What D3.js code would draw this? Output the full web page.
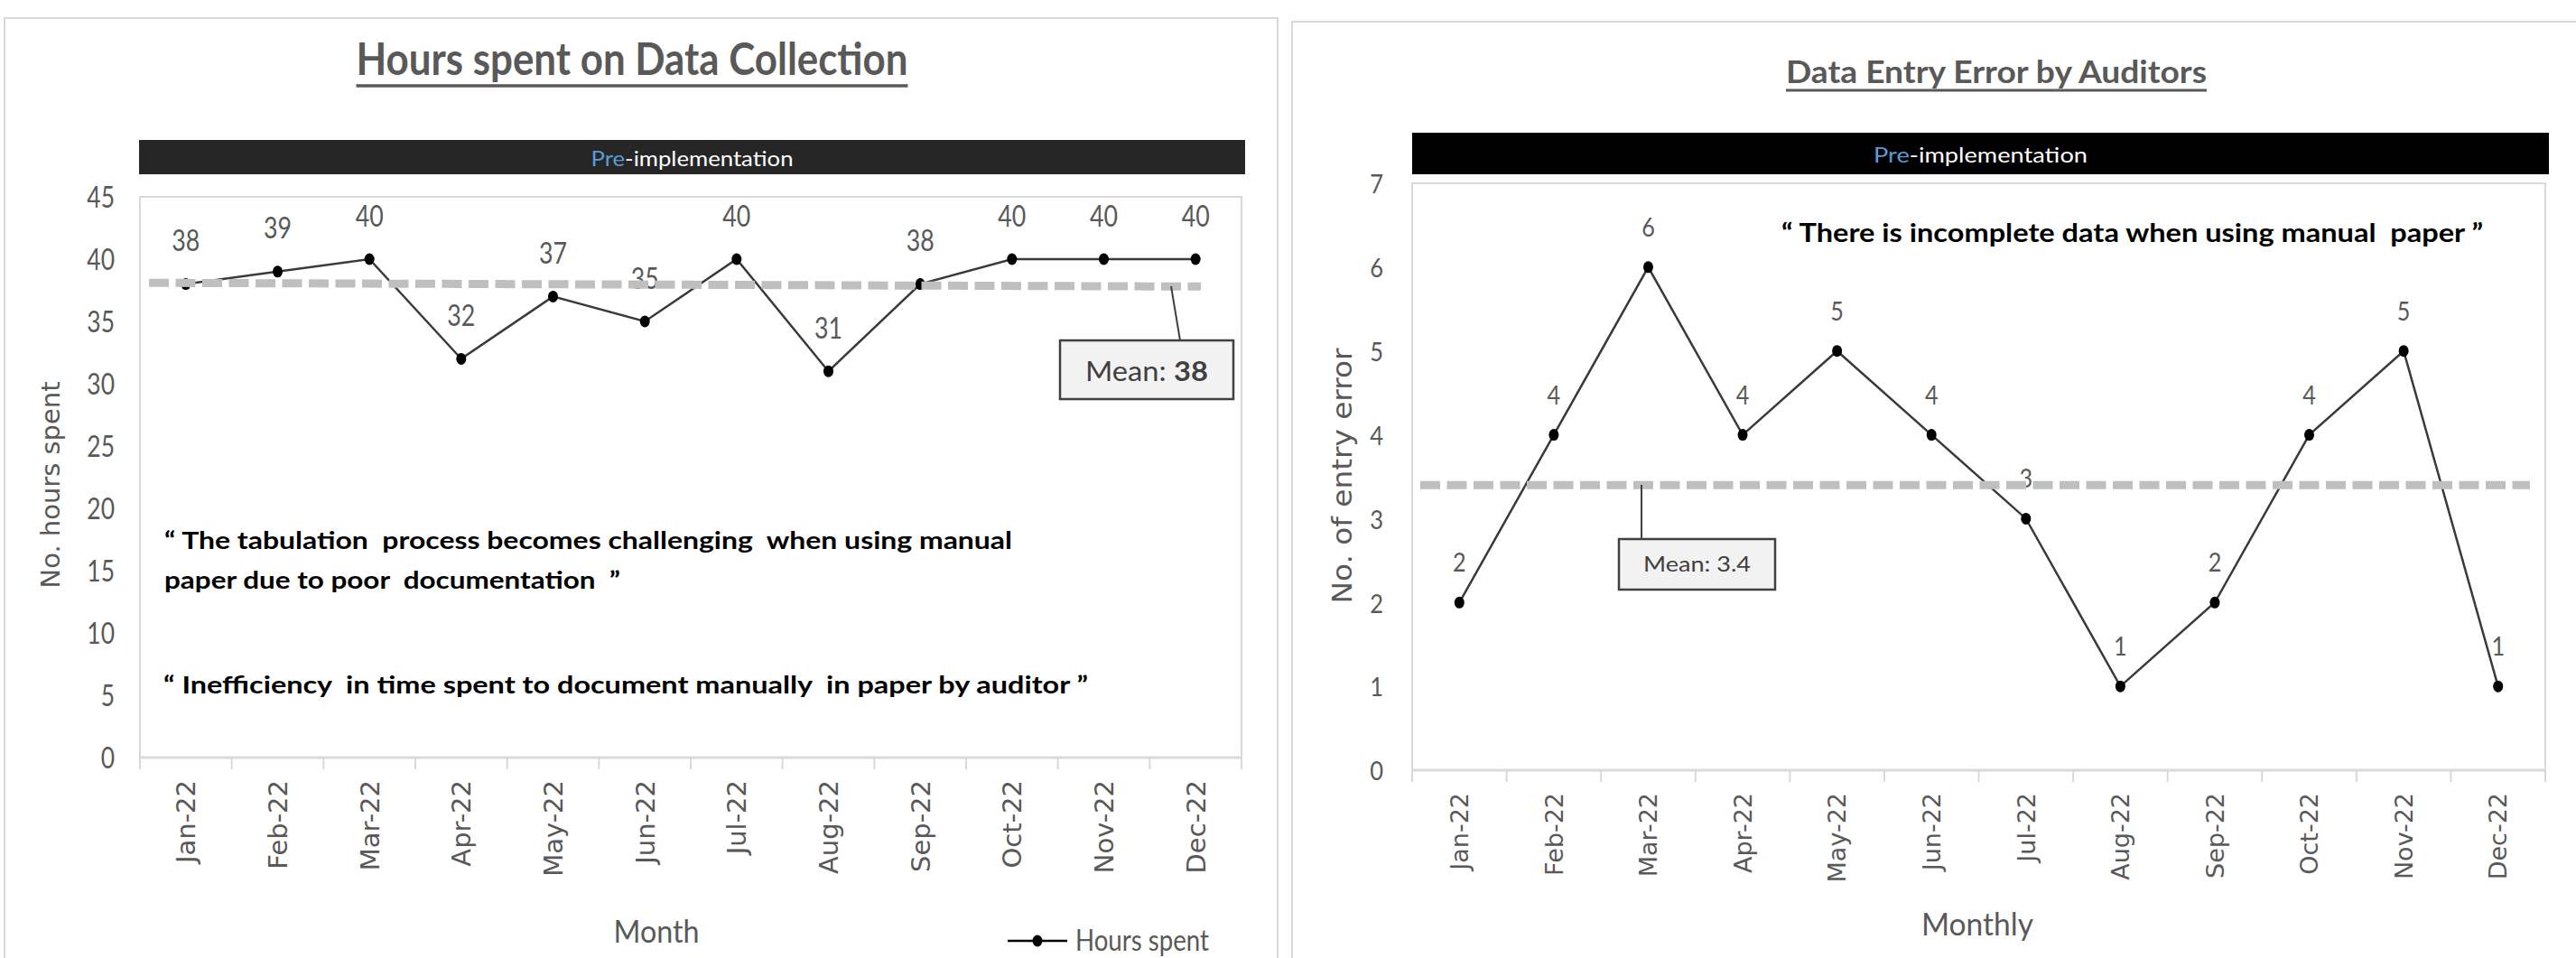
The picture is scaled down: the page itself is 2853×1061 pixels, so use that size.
<!DOCTYPE html>
<html><head><meta charset="utf-8">
<script src="https://cdn.jsdelivr.net/npm/d3@7"></script>
<style>html,body{margin:0;padding:0;background:#fff;} svg{display:block;} text{white-space:pre;}</style>
</head><body><svg id="c" width="2853" height="1061"></svg>
<script>
// ---------- DATA ----------
const months = ["Jan-22","Feb-22","Mar-22","Apr-22","May-22","Jun-22","Jul-22","Aug-22","Sep-22","Oct-22","Nov-22","Dec-22"];
const hoursSpent = [38,39,40,32,37,35,40,31,38,40,40,40];
const entryErrors = [2,4,6,4,5,4,3,1,2,4,5,1];
const hoursTicks = [0,5,10,15,20,25,30,35,40,45];
const errorTicks = [0,1,2,3,4,5,6,7];
const hoursMeanLine = [38.1, 37.8];
const errorMeanLine = [3.4, 3.4];
const hoursMeanLabel = "38";
const errorMeanLabel = "3.4";
const hoursQuotes = ["“ The tabulation  process becomes challenging  when using manual",
                     "paper due to poor  documentation  ”",
                     "“ Inefficiency  in time spent to document manually  in paper by auditor ”"];
const errorQuotes = ["“ There is incomplete data when using manual  paper ”"];

// ---------- DRAW ----------
const svg = d3.select("#c");
svg.append("rect").attr("width",2853).attr("height",1061).attr("fill","#fff");
const CAL = "Lato, 'Open Sans', sans-serif";
const VER = "'DejaVu Sans', Verdana, sans-serif";

function fitW(sel, w){ if (w) sel.attr("textLength", w).attr("lengthAdjust","spacingAndGlyphs"); return sel; }
function squeeze(sel, f){ sel.each(function(){ const w=this.getComputedTextLength(); this.setAttribute("textLength", w*f); this.setAttribute("lengthAdjust","spacingAndGlyphs"); }); return sel; }

function drawChart(c){
  const g = svg.append("g");
  g.append("rect").attr("x",c.panel[0]).attr("y",c.panel[1]).attr("width",c.panel[2]).attr("height",c.panel[3])
    .attr("fill","#fff").attr("stroke","#D9D9D9").attr("stroke-width",2);
  const tt = g.append("text").attr("x",c.titleX).attr("y",c.titleBase).attr("text-anchor","middle")
    .attr("font-family",CAL).attr("font-weight",700).attr("font-size",c.titleSize).attr("fill","#595959").text(c.title);
  fitW(tt, c.titleW);
  g.append("line").attr("x1",c.titleX-c.titleW/2).attr("x2",c.titleX+c.titleW/2)
    .attr("y1",c.underlineY).attr("y2",c.underlineY).attr("stroke","#595959").attr("stroke-width",c.underlineW);
  g.append("rect").attr("x",c.bar[0]).attr("y",c.bar[1]).attr("width",c.bar[2]).attr("height",c.bar[3]).attr("fill",c.barColor);
  const bt = g.append("text").attr("x",c.bar[0]+c.bar[2]/2).attr("y",c.barBase).attr("text-anchor","middle")
    .attr("font-family",CAL).attr("font-size",c.barSize);
  bt.append("tspan").attr("fill","#5B9BD5").text("Pre");
  bt.append("tspan").attr("fill","#ffffff").text("-implementation");
  fitW(bt, c.barW);

  const [px0,py0,px1,py1] = c.plot;
  const x = d3.scaleBand().domain(months).range([px0,px1]).paddingInner(0).paddingOuter(0);
  const y = d3.scaleLinear().domain([0,c.ymax]).range([py1,py0]);
  const cx = m => x(m)+x.bandwidth()/2;

  g.append("rect").attr("x",px0).attr("y",py0).attr("width",px1-px0).attr("height",py1-py0)
    .attr("fill","none").attr("stroke","#D9D9D9").attr("stroke-width",2);
  g.append("line").attr("x1",px0).attr("x2",px1).attr("y1",y(0)).attr("y2",y(0)).attr("stroke","#D9D9D9").attr("stroke-width",3);
  const bounds = months.map(m=>x(m)).concat([x.range()[1]]);
  g.selectAll(null).data(bounds).enter().append("line")
    .attr("x1",d=>d).attr("x2",d=>d).attr("y1",y(0)).attr("y2",y(0)+13).attr("stroke","#D9D9D9").attr("stroke-width",2);

  const ya = g.append("g").attr("transform",`translate(${px0},0)`)
    .call(d3.axisLeft(y).tickValues(c.ticks).tickFormat(d3.format("d")).tickSize(0).tickPadding(c.yPad));
  ya.select(".domain").remove();
  ya.selectAll("text").attr("font-family",CAL).attr("font-size",c.yTickSize).attr("fill","#595959").attr("dy",c.yTickDy);
  squeeze(ya.selectAll("text"), c.yTickSq);

  const xa = g.append("g").attr("transform",`translate(0,${y(0)})`).call(d3.axisBottom(x).tickSize(0));
  xa.select(".domain").remove();
  xa.selectAll("text").attr("transform","rotate(-90)").attr("text-anchor","end").attr("x",-25).attr("y",0).attr("dy","0.36em")
    .attr("font-family",VER).attr("font-size",c.xTickSize).attr("fill","#595959");

  const vals = c.values;
  g.append("path").datum(vals).attr("fill","none").attr("stroke","#3a3a3a").attr("stroke-width",2.5)
    .attr("d", d3.line().x((d,i)=>cx(months[i])).y(d=>y(d)));
  g.selectAll(null).data(vals).enter().append("ellipse")
    .attr("cx",(d,i)=>cx(months[i])).attr("cy",d=>y(d)).attr("rx",5.5).attr("ry",6.5).attr("fill","#000");
  const dl = g.selectAll(null).data(vals).enter().append("text")
    .attr("x",(d,i)=>cx(months[i])).attr("y",d=>y(d)-c.lblOff).attr("text-anchor","middle")
    .attr("font-family",CAL).attr("font-size",c.lblSize).attr("fill","#595959").text(d=>d);
  squeeze(dl, c.lblSq);

  g.append("line").attr("x1",c.meanX[0]).attr("x2",c.meanX[1]).attr("y1",y(c.mean[0])).attr("y2",y(c.mean[1]))
    .attr("stroke","#BFBFBF").attr("stroke-width",9).attr("stroke-dasharray","22 7.5");
  g.append("line").attr("x1",c.lead[0]).attr("y1",c.lead[1]).attr("x2",c.lead[2]).attr("y2",c.lead[3])
    .attr("stroke","#404040").attr("stroke-width",2);
  g.append("rect").attr("x",c.box[0]).attr("y",c.box[1]).attr("width",c.box[2]).attr("height",c.box[3])
    .attr("fill","#F2F2F2").attr("stroke","#404040").attr("stroke-width",2.5);
  const mt = g.append("text").attr("x",c.box[0]+c.box[2]/2).attr("y",c.boxBase).attr("text-anchor","middle")
    .attr("font-family",CAL).attr("font-size",c.boxSize).attr("fill","#404040");
  mt.append("tspan").text("Mean: ");
  mt.append("tspan").attr("font-weight",c.meanBold).text(c.meanLabel);
  fitW(mt, c.boxTextW);

  c.quotes.forEach((q,i)=>{
    const t = g.append("text").attr("x",c.quotePos[i][0]).attr("y",c.quotePos[i][1])
      .attr("font-family",CAL).attr("font-weight",700).attr("font-size",c.quoteSize).attr("fill","#000").text(q);
    fitW(t, c.quotePos[i][2]);
  });

  const yt = g.append("text").attr("transform",`translate(${c.yTitle[0]},${c.yTitle[1]}) rotate(-90)`)
    .attr("text-anchor","middle").attr("font-family",VER).attr("font-size",c.yTitleSize).attr("fill","#595959").text(c.yTitleText);
  fitW(yt, c.yTitle[2]);
  const xt = g.append("text").attr("x",c.xTitle[0]).attr("y",c.xTitle[1]).attr("text-anchor","middle")
    .attr("font-family",CAL).attr("font-size",34).attr("fill","#595959").text(c.xTitleText);
  fitW(xt, c.xTitle[2]);

  if (c.legend){
    const L = c.legend;
    g.append("line").attr("x1",L[0]).attr("x2",L[1]).attr("y1",L[2]).attr("y2",L[2]).attr("stroke","#000").attr("stroke-width",2.5);
    g.append("ellipse").attr("cx",(L[0]+L[1])/2).attr("cy",L[2]).attr("rx",5.5).attr("ry",6.5).attr("fill","#000");
    const lt = g.append("text").attr("x",L[3]).attr("y",L[4]).attr("font-family",CAL).attr("font-size",32).attr("fill","#595959").text(c.legendText);
    fitW(lt, L[5]);
  }
}

drawChart({
  panel:[5,20,1410,1100],
  title:"Hours spent on Data Collection", titleX:700, titleBase:83, titleSize:50, titleW:611, underlineY:95, underlineW:3.5,
  bar:[154,155,1225,38], barColor:"#262626", barBase:184, barSize:24, barW:224,
  plot:[155,218,1375,839], ymax:45, ticks:hoursTicks, yPad:28, yTickSize:33, yTickDy:"0.36em", yTickSq:0.8,
  xTickSize:29,
  values:hoursSpent, lblOff:36.5, lblSize:33, lblSq:0.81,
  mean:hoursMeanLine, meanX:[165,1330], meanLabel:hoursMeanLabel, meanBold:700,
  lead:[1297,317,1307,377], box:[1174,377,192,65], boxBase:422, boxSize:30, boxTextW:136,
  quotes:hoursQuotes, quoteSize:27, quotePos:[[182,608,939],[182,652,505],[181,768,1024]],
  yTitle:[66,537,229], yTitleSize:28, yTitleText:"No. hours spent",
  xTitle:[727,1044,95], xTitleText:"Month",
  legend:[1116,1182,1042,1191,1053,148], legendText:"Hours spent"
});
drawChart({
  panel:[1431,24,1500,1100],
  title:"Data Entry Error by Auditors", titleX:2211, titleBase:92, titleSize:35, titleW:466, underlineY:100, underlineW:3,
  bar:[1564,147,1259,46], barColor:"#000000", barBase:180, barSize:24, barW:237,
  plot:[1564,203,2819,853], ymax:7, ticks:errorTicks, yPad:32, yTickSize:29, yTickDy:"0.37em", yTickSq:0.88,
  xTickSize:27,
  values:entryErrors, lblOff:34, lblSize:28, lblSq:0.9,
  mean:errorMeanLine, meanX:[1573,2802], meanLabel:errorMeanLabel, meanBold:400,
  lead:[1818,537,1818,597], box:[1793,597,173,56], boxBase:633, boxSize:23, boxTextW:119,
  quotes:errorQuotes, quoteSize:29, quotePos:[[1973,268,777]],
  yTitle:[1497,527,283], yTitleSize:31, yTitleText:"No. of entry error",
  xTitle:[2190,1036,124], xTitleText:"Monthly",
  legend:null
});
</script></body></html>
